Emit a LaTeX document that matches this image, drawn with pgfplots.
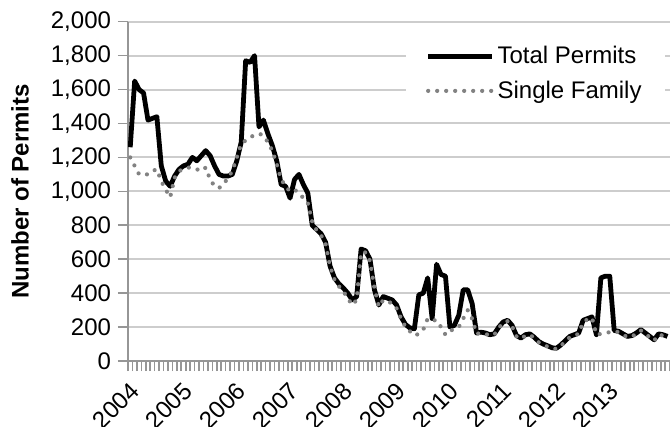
\documentclass[border=0pt]{standalone}
\usepackage{pgfplots}
\pgfplotsset{compat=1.18}
\usepackage{fontspec}
\setmainfont{Liberation Sans}
\definecolor{gridc}{RGB}{205,205,205}
\definecolor{axisc}{RGB}{150,150,150}
\definecolor{sfc}{RGB}{130,130,130}
\pgfplotstableread{
i total single
0 1260 1200
1 1650 1150
2 1600 1100
3 1580 1100
4 1420 1100
5 1430 1120
6 1440 1130
7 1150 1060
8 1060 1010
9 1030 965
10 1090 1080
11 1130 1120
12 1150 1130
13 1160 1140
14 1200 1140
15 1180 1130
16 1210 1120
17 1240 1140
18 1210 1070
19 1150 1030
20 1100 1020
21 1090 1040
22 1090 1080
23 1100 1120
24 1180 1200
25 1290 1280
26 1770 1300
27 1760 1320
28 1800 1330
29 1380 1340
30 1420 1330
31 1340 1290
32 1270 1240
33 1180 1160
34 1040 1070
35 1030 1030
36 960 1000
37 1070 1010
38 1100 990
39 1040 960
40 990 930
41 800 820
42 775 770
43 750 740
44 700 690
45 560 560
46 490 480
47 455 440
48 430 410
49 400 370
50 360 330
51 380 360
52 660 640
53 650 640
54 600 590
55 420 430
56 330 320
57 380 360
58 370 350
59 360 340
60 330 310
61 260 250
62 215 200
63 195 175
64 190 150
65 390 160
66 400 185
67 490 250
68 250 240
69 570 240
70 510 200
71 500 155
72 200 180
73 210 185
74 270 200
75 420 250
76 420 300
77 340 250
78 165 160
79 170 165
80 165 160
81 155 150
82 160 155
83 200 195
84 230 225
85 240 235
86 210 205
87 150 145
88 135 130
89 155 150
90 160 155
91 140 135
92 115 110
93 100 95
94 90 85
95 78 75
96 75 70
97 95 90
98 120 115
99 145 140
100 155 150
101 165 160
102 240 230
103 250 245
104 260 255
105 155 155
106 490 160
107 500 165
108 500 170
109 180 175
110 175 170
111 160 155
112 145 140
113 150 145
114 165 160
115 185 180
116 165 160
117 145 140
118 125 120
119 160 155
120 155 150
121 145 140
}\datatable
\begin{document}
\begin{tikzpicture}[font=\fontsize{12bp}{14bp}\selectfont]
\begin{axis}[
  at={(0,0)}, anchor=south west,
  scale only axis, width=271bp, height=169.65bp,
  xmin=-0.5, xmax=121.57, ymin=0, ymax=2000,
  axis lines*=left,
  axis line style={axisc, line width=1bp},
  ytick={0,200,...,2000},
  ymajorgrids, grid style={gridc, line width=1bp},
  tick style={axisc, line width=0.8bp},
  tick align=outside,
  major tick length=5bp,
  /pgf/number format/1000 sep={,},
  /pgf/number format/assume math mode=true,
  ticklabel style={font=\fontsize{12bp}{14bp}\selectfont, text=black},
  xtick={-0.5,0.5,...,121.5},
  xticklabel=\empty,
  extra x ticks={0,12,...,108},
  extra x tick labels={2004,2005,2006,2007,2008,2009,2010,2011,2012,2013},
  extra x tick style={major tick length=0pt, xticklabel style={inner sep=1bp, xshift=-0.8bp, yshift=-8.2bp, rotate=45, anchor=north east}},
  ylabel={\bfseries Number of Permits},
  ylabel style={at={(axis description cs:-0.1993,0.5)}, anchor=center, font=\fontsize{12bp}{14bp}\selectfont\bfseries},
  legend style={at={(axis description cs:0.9908,0.961)}, anchor=north east, draw=none, fill=white,
     inner xsep=10bp, inner ysep=4bp, row sep=4bp, font=\fontsize{12bp}{14bp}\selectfont,
     nodes={inner sep=1.5bp}},
  legend cell align=left,
  legend image code/.code={\draw[#1] (0bp,0bp) -- (32bp,0bp);},
]
\addplot[black, line width=2.4bp, line join=round] table[x=i, y=total] {\datatable};
\addlegendentry{Total Permits}
\addplot[sfc, line width=2.1bp, line cap=round, dash pattern=on 0bp off 4.5bp] table[x=i, y=single] {\datatable};
\addlegendentry{Single Family}
\end{axis}
\pgfresetboundingbox
\path[use as bounding box] (-64bp,-33bp) rectangle (271bp,180.5bp);
\end{tikzpicture}
\end{document}
